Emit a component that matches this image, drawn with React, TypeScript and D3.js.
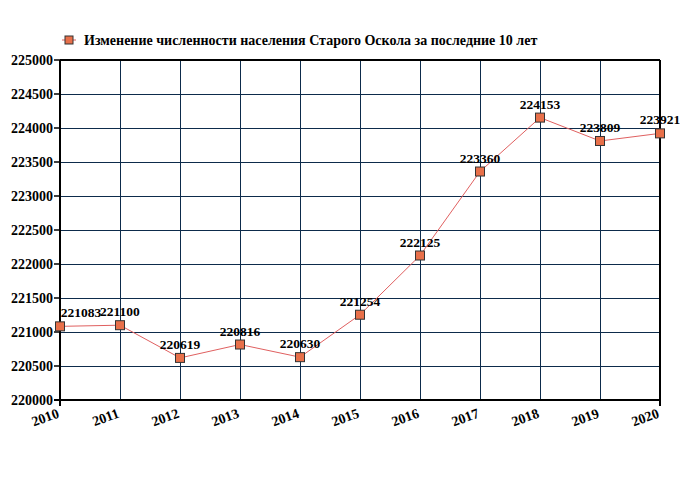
import * as d3 from 'd3';

const years = ['2010', '2011', '2012', '2013', '2014', '2015', '2016', '2017', '2018', '2019', '2020'];
const population = [221083, 221100, 220619, 220816, 220630, 221254, 222125, 223360, 224153, 223809, 223921];
const yTicks = [220000, 220500, 221000, 221500, 222000, 222500, 223000, 223500, 224000, 224500, 225000];
const title = 'Изменение численности населения Старого Оскола за последние 10 лет';

const width = 680;
const height = 500;
const margin = { top: 60, right: 20, bottom: 100, left: 60 };
const font = '"Liberation Serif", "Times New Roman", serif';

const App = () => {
  const x = d3
    .scalePoint<string>()
    .domain(years)
    .range([margin.left, width - margin.right]);
  const y = d3
    .scaleLinear()
    .domain([220000, 225000])
    .range([height - margin.bottom, margin.top]);

  const line = d3
    .line<number>()
    .x((_, i) => x(years[i]) ?? 0)
    .y((d) => y(d));

  const x0 = margin.left;
  const x1 = width - margin.right;
  const y0 = height - margin.bottom;
  const y1 = margin.top;

  return (
    <svg
      width={width}
      height={height}
      style={{ position: 'absolute', left: 0, top: 0, background: '#fff' }}
      fontFamily={font}
    >
      {/* legend */}
      <line x1={62} x2={76} y1={40} y2={40} stroke="#e06060" strokeWidth={1} />
      <rect x={65} y={36} width={8} height={8} fill="#e8704a" stroke="#333" strokeWidth={1} />
      <text x={84} y={45} fontSize={14} fontWeight="bold" fill="#000">
        {title}
      </text>

      {/* grid */}
      <g shapeRendering="crispEdges">
        {yTicks.map((t) => (
          <line key={'gy' + t} x1={x0} x2={x1} y1={y(t)} y2={y(t)} stroke="#0d2b4b" strokeWidth={1} />
        ))}
        {years.map((yr) => (
          <line key={'gx' + yr} x1={x(yr)} x2={x(yr)} y1={y0} y2={y1} stroke="#0d2b4b" strokeWidth={1} />
        ))}
      </g>

      {/* frame */}
      <line x1={x0} x2={x1} y1={y1} y2={y1} stroke="#000" strokeWidth={2} />
      <line x1={x1} x2={x1} y1={y1} y2={y0 + 6} stroke="#000" strokeWidth={2} />
      <line x1={x0} x2={x0} y1={y1} y2={y0 + 6} stroke="#000" strokeWidth={2} />
      <line x1={x0 - 6} x2={x1} y1={y0} y2={y0} stroke="#000" strokeWidth={2} />

      {/* y axis */}
      {yTicks.map((t) => (
        <g key={'ty' + t}>
          <line x1={x0 - 6} x2={x0} y1={y(t)} y2={y(t)} stroke="#000" strokeWidth={1.5} />
          <text x={x0 - 7} y={y(t)} dy="0.35em" textAnchor="end" fontSize={14} fontWeight="bold">
            {t}
          </text>
        </g>
      ))}

      {/* x axis */}
      {years.map((yr) => (
        <text
          key={'tx' + yr}
          transform={`translate(${x(yr)},${y0 + 17}) rotate(-20)`}
          textAnchor="end"
          fontSize={14}
          fontWeight="bold"
        >
          {yr}
        </text>
      ))}

      {/* series */}
      <path d={line(population) ?? ''} fill="none" stroke="#e06060" strokeWidth={1} />
      {population.map((v, i) => (
        <rect
          key={'p' + i}
          x={(x(years[i]) ?? 0) - 4.5}
          y={y(v) - 4.5}
          width={9}
          height={9}
          fill="#e8704a"
          stroke="#333"
          strokeWidth={1}
        />
      ))}
      {population.map((v, i) => (
        <text
          key={'l' + i}
          x={(x(years[i]) ?? 0) + (i === 0 ? 21 : 0)}
          y={y(v) - 9}
          textAnchor="middle"
          fontSize={13.5}
          fontWeight="bold"
        >
          {v}
        </text>
      ))}
    </svg>
  );
};

export default App;
